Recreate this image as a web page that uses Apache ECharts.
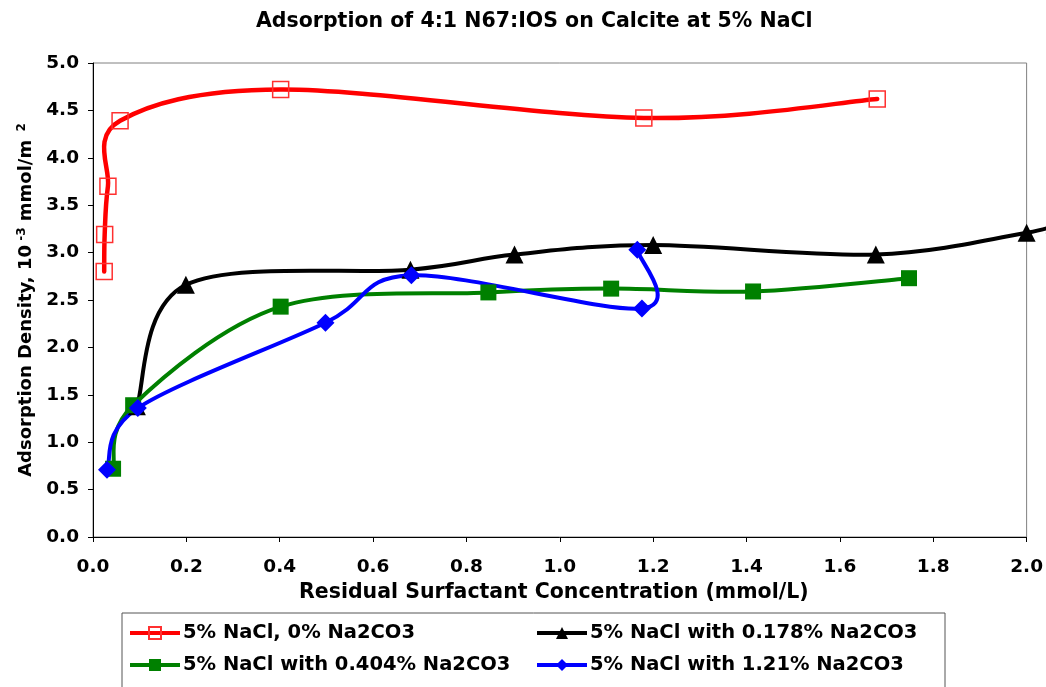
<!DOCTYPE html>
<html>
<head>
<meta charset="utf-8">
<script src="https://cdn.jsdelivr.net/npm/echarts@6/dist/echarts.min.js"></script>
<style>
  html, body { margin: 0; padding: 0; background: #fff; }
  #chart { width: 1046px; height: 687px; }
</style>
</head>
<body>
<div id="chart"></div>
<script>
// Residual surfactant concentration (mmol/L) vs adsorption density (10^-3 mmol/m^2)
const nacl0X = [0.024, 0.025, 0.032, 0.058, 0.402, 1.180, 1.680];
const nacl0Y = [2.80, 3.19, 3.70, 4.39, 4.72, 4.42, 4.62];

const na178X = [0.094, 0.199, 0.680, 0.903, 1.200, 1.677, 2.000, 2.060];
const na178Y = [1.38, 2.66, 2.82, 2.98, 3.08, 2.98, 3.21, 3.30];

const na404X = [0.043, 0.086, 0.402, 0.847, 1.110, 1.414, 1.748];
const na404Y = [0.72, 1.39, 2.43, 2.58, 2.62, 2.59, 2.73];

const na121X = [0.030, 0.096, 0.498, 0.682, 1.176, 1.166];
const na121Y = [0.71, 1.36, 2.26, 2.76, 2.41, 3.03];

const seriesNames = [
  '5% NaCl, 0% Na2CO3',
  '5% NaCl with 0.178% Na2CO3',
  '5% NaCl with 0.404% Na2CO3',
  '5% NaCl with 1.21% Na2CO3'
];

const xTicks = { min: 0, max: 2.0, step: 0.2 };
const yTicks = { min: 0, max: 5.0, step: 0.5 };

const pairs = (xs, ys) => xs.map((x, i) => [x, ys[i]]);

const FONT = '"DejaVu Sans", "Liberation Sans", sans-serif';

// Smoothed curve through the points (cubic Bezier, tangents = (next - prev) / 6),
// computed in pixel space from the axis scales.
function smoothPath(pts) {
  const n = pts.length;
  const at = i => pts[Math.max(0, Math.min(n - 1, i))];
  let d = 'M' + pts[0][0] + ' ' + pts[0][1];
  for (let i = 0; i < n - 1; i++) {
    const p0 = at(i - 1), p1 = at(i), p2 = at(i + 1), p3 = at(i + 2);
    const c1 = [p1[0] + (p2[0] - p0[0]) / 6, p1[1] + (p2[1] - p0[1]) / 6];
    const c2 = [p2[0] - (p3[0] - p1[0]) / 6, p2[1] - (p3[1] - p1[1]) / 6];
    d += ' C' + c1[0] + ' ' + c1[1] + ' ' + c2[0] + ' ' + c2[1] + ' ' + p2[0] + ' ' + p2[1];
  }
  return d;
}

function curveSeries(xs, ys, color, width) {
  return {
    type: 'custom',
    name: 'curve-' + color,
    coordinateSystem: 'cartesian2d',
    data: [[xs[0], ys[0]]],
    clip: false,
    silent: true,
    encode: { x: 0, y: 1 },
    renderItem: (params, api) => {
      const pts = xs.map((x, i) => api.coord([x, ys[i]]));
      return {
        type: 'path',
        shape: { pathData: smoothPath(pts) },
        style: { fill: null, stroke: color, lineWidth: width, lineJoin: 'round', lineCap: 'round' }
      };
    }
  };
}

function markerSeries(name, xs, ys, color, symbol, size, itemStyle) {
  return {
    name: name,
    type: 'line',
    data: pairs(xs, ys),
    symbol: symbol,
    symbolSize: size,
    showAllSymbol: true,
    lineStyle: { color: color, width: 4, opacity: 0 },
    itemStyle: itemStyle,
    clip: false
  };
}

const chart = echarts.init(document.getElementById('chart'), null, { renderer: 'canvas' });

chart.setOption({
  animation: false,
  backgroundColor: '#ffffff',
  title: {
    text: 'Adsorption of 4:1 N67:IOS on Calcite at 5% NaCl',
    left: 256,
    top: 11,
    padding: 0,
    textStyle: { fontFamily: FONT, fontWeight: 'bold', fontSize: 20.5, color: '#000' }
  },
  grid: {
    left: 93, right: 18, top: 63, bottom: 150,
    show: true, borderColor: '#808080', borderWidth: 1, backgroundColor: 'transparent'
  },
  xAxis: {
    type: 'value',
    min: xTicks.min, max: xTicks.max, interval: xTicks.step,
    name: 'Residual Surfactant Concentration (mmol/L)',
    nameLocation: 'middle',
    nameGap: 43,
    nameTextStyle: {
      fontFamily: FONT, fontWeight: 'bold', fontSize: 20.5, color: '#000',
      padding: [0, 12, 0, 0]
    },
    axisLine: { lineStyle: { color: '#000', width: 1 } },
    axisTick: { show: true, inside: false, length: 5, lineStyle: { color: '#000' } },
    axisLabel: {
      formatter: v => v.toFixed(1),
      fontFamily: FONT, fontWeight: 'bold', fontSize: 18.5, color: '#000', margin: 21
    },
    splitLine: { show: false }
  },
  yAxis: {
    type: 'value',
    min: yTicks.min, max: yTicks.max, interval: yTicks.step,
    name: 'Adsorption Density, 10{sup| -3} mmol/m{sup|  2}',
    nameLocation: 'middle',
    nameGap: 53,
    nameRotate: 90,
    nameTextStyle: {
      fontFamily: FONT, fontWeight: 'bold', fontSize: 18, color: '#000',
      rich: {
        sup: { fontFamily: FONT, fontWeight: 'bold', fontSize: 12, color: '#000', verticalAlign: 'top', padding: [0, 0, 9, 0] }
      }
    },
    axisLine: { show: true, lineStyle: { color: '#000', width: 1 } },
    axisTick: { show: true, inside: false, length: 5, lineStyle: { color: '#000' } },
    axisLabel: {
      formatter: v => v.toFixed(1),
      fontFamily: FONT, fontWeight: 'bold', fontSize: 18.5, color: '#000', margin: 14
    },
    splitLine: { show: false }
  },
  legend: {
    left: 122,
    top: 613,
    width: 830,
    orient: 'horizontal',
    padding: [10, 15, 16, 6],
    itemWidth: 50,
    itemHeight: 15,
    itemGap: 12,
    backgroundColor: '#fff',
    borderColor: '#555',
    borderWidth: 1,
    lineStyle: { width: 4, opacity: 1 },
    textStyle: {
      fontFamily: FONT, fontWeight: 'bold', fontSize: 19.5, color: '#000',
      width: 340, lineHeight: 20, overflow: 'none', padding: [0, 0, 0, -2]
    },
    data: seriesNames
  },
  series: [
    curveSeries(nacl0X, nacl0Y, '#ff0000', 4.5),
    markerSeries(seriesNames[0], nacl0X, nacl0Y, '#ff0000', 'rect', 16,
      { color: 'rgba(255,255,255,0)', borderColor: '#ff3030', borderWidth: 1.5 }),
    curveSeries(na178X, na178Y, '#000000', 4),
    markerSeries(seriesNames[1], na178X, na178Y, '#000000', 'triangle', 18, { color: '#000000' }),
    curveSeries(na404X, na404Y, '#008000', 4),
    markerSeries(seriesNames[2], na404X, na404Y, '#008000', 'rect', 16, { color: '#008000' }),
    curveSeries(na121X, na121Y, '#0000ff', 4),
    markerSeries(seriesNames[3], na121X, na121Y, '#0000ff', 'diamond', 18, { color: '#0000ff' })
  ]
});
</script>
</body>
</html>
